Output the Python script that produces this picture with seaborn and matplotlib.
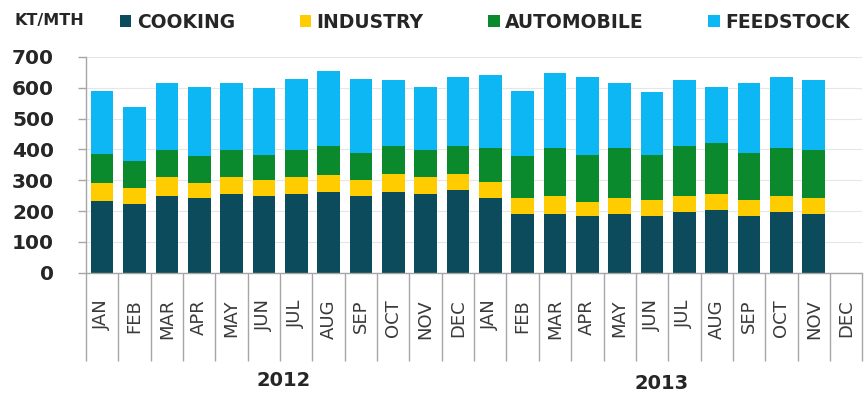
import numpy as np
import pandas as pd
import matplotlib
matplotlib.use("Agg")
import matplotlib.pyplot as plt
import matplotlib.transforms as mtransforms
import seaborn as sns

# Monthly consumption by sector, KT per month (Jan 2012 - Dec 2013)
months = ["JAN", "FEB", "MAR", "APR", "MAY", "JUN",
          "JUL", "AUG", "SEP", "OCT", "NOV", "DEC"] * 2
years = ["2012", "2013"]

cooking = [234, 224, 249, 242, 256, 249, 256, 261, 249, 261, 256, 267,
           242, 190, 190, 184, 190, 184, 197, 203, 184, 197, 190, np.nan]
industry = [56, 52, 60, 48, 53, 52, 53, 55, 52, 59, 53, 53,
            52, 52, 59, 46, 52, 53, 52, 53, 53, 52, 52, np.nan]
automobile = [95, 88, 89, 90, 89, 82, 89, 94, 89, 90, 89, 90,
              111, 138, 156, 153, 163, 146, 161, 166, 153, 156, 156, np.nan]
feedstock = [205, 174, 218, 223, 218, 215, 232, 245, 240, 214, 205, 224,
             236, 210, 244, 251, 211, 202, 214, 181, 226, 229, 226, np.nan]

series = ["COOKING", "INDUSTRY", "AUTOMOBILE", "FEEDSTOCK"]
colors = {"COOKING": "#0C4B5C", "INDUSTRY": "#FFCC00",
          "AUTOMOBILE": "#0A8A2C", "FEEDSTOCK": "#0DB7F3"}

df = pd.DataFrame({"pos": np.arange(len(months)),
                   "COOKING": cooking, "INDUSTRY": industry,
                   "AUTOMOBILE": automobile, "FEEDSTOCK": feedstock})
# cumulative tops for stacking
stack = df[series].cumsum(axis=1)
stack["pos"] = df["pos"]

sns.set_theme(style="white")
plt.rcParams["font.family"] = ["DejaVu Sans"]

fig = plt.figure(figsize=(8.64, 3.96), dpi=100)
ax = fig.add_axes([86 / 864, 1 - 272.7 / 396, 1 - 86 / 864 - 0.002, 215.7 / 396])

order = list(range(len(months)))
for name in reversed(series):
    sns.barplot(data=stack, x="pos", y=name, order=order, color=colors[name],
                width=0.7, saturation=1, label=name, ax=ax, linewidth=0)

handles, labels = ax.get_legend_handles_labels()
if ax.get_legend() is not None:
    ax.get_legend().remove()

ax.set_ylim(0, 700)
ax.set_xlim(-0.5, len(months) - 0.5)
ax.set_yticks(range(0, 701, 100))
ax.yaxis.grid(True, color="#E6E6E6", linewidth=0.8)
ax.set_axisbelow(True)
ax.set_xlabel("")
ax.set_ylabel("")

for s in ["top", "right"]:
    ax.spines[s].set_visible(False)
for s in ["left", "bottom"]:
    ax.spines[s].set_color("#A6A6A6")
    ax.spines[s].set_linewidth(1.0)

ax.tick_params(axis="y", which="major", left=True, length=6, width=1,
               color="#A6A6A6", direction="out", pad=17, labelsize=14.5,
               labelcolor="#262626")
for lbl in ax.get_yticklabels():
    lbl.set_fontweight("bold")

# month labels with category separators below the axis
ax.set_xticks(order)
ax.set_xticklabels(months, rotation=90, fontsize=13, color="#3A3A3A")
ax.tick_params(axis="x", which="major", bottom=False, length=0, pad=19)
ax.set_xticks(np.arange(-0.5, len(months), 1), minor=True)
ax.tick_params(axis="x", which="minor", bottom=True, length=63, width=1,
               color="#A6A6A6", direction="out")

trans = mtransforms.blended_transform_factory(ax.transData, ax.transAxes)
ax.text(5.6, -0.50, years[0], transform=trans, ha="center", va="center",
        fontsize=14, fontweight="bold", color="#262626")
ax.text(17.3, -0.515, years[1], transform=trans, ha="center", va="center",
        fontsize=14, fontweight="bold", color="#262626")

# legend across the top
hmap = dict(zip(labels, handles))
leg = fig.legend([hmap[n] for n in series], series, ncol=4, frameon=False,
                 loc="center left", bbox_to_anchor=(120 / 864, 1 - 22 / 396),
                 handlelength=0.6, handleheight=0.6, handletextpad=0.3,
                 columnspacing=3.45, borderaxespad=0, borderpad=0,
                 prop={"size": 13.5, "weight": "bold"})
for t in leg.get_texts():
    t.set_color("#262626")

fig.text(15 / 864, 1 - 20 / 396, "KT/MTH", fontsize=11.5, fontweight="bold",
         color="#262626", va="center", ha="left")

fig.savefig("out.png", dpi=100)
